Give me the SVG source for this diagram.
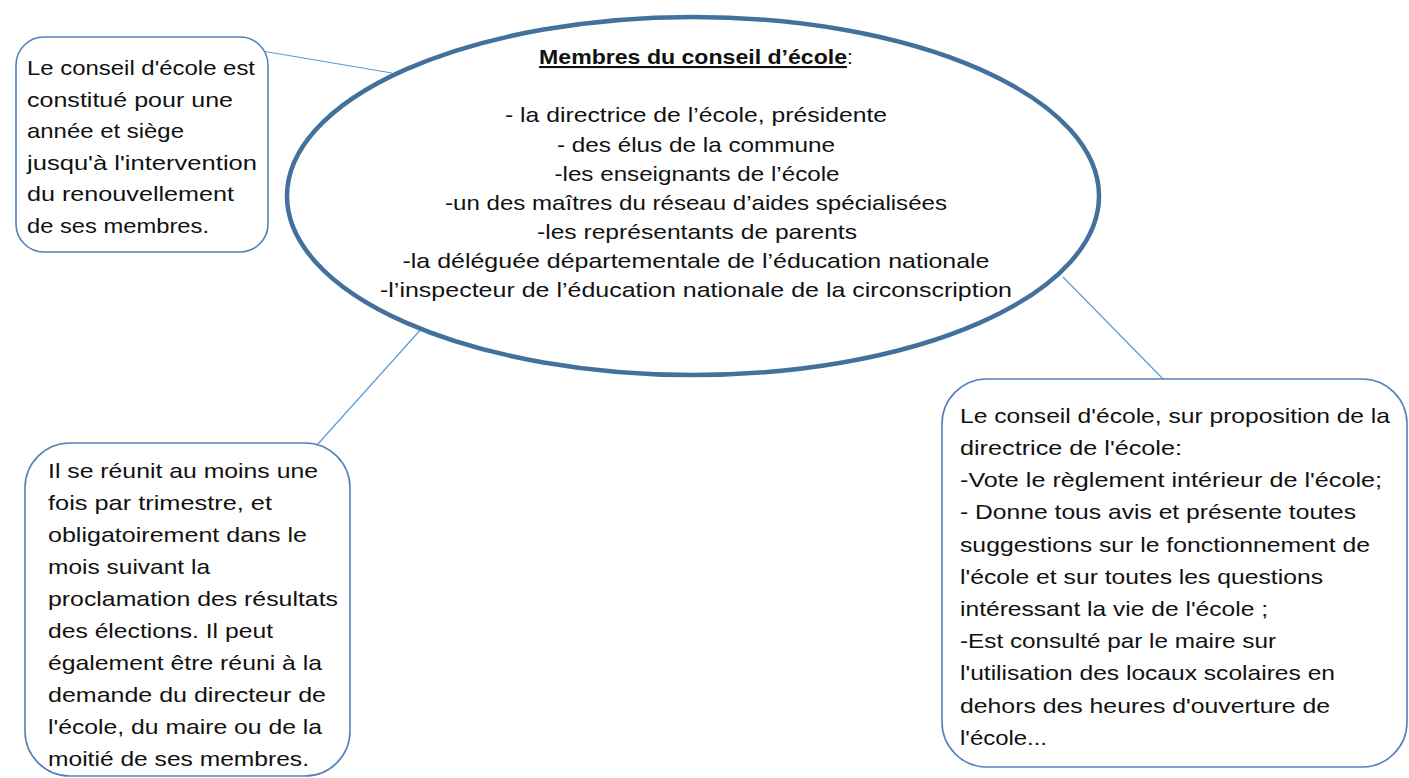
<svg xmlns="http://www.w3.org/2000/svg" width="1409" height="778" viewBox="0 0 1409 778">
<style>
.bg{fill:#ffffff}
.box{fill:#ffffff;stroke:#5482B8;stroke-width:1.6}
.ell{fill:#ffffff;stroke:#41719C;stroke-width:4.5}
.con{stroke:#5B9BD5;stroke-width:1.2;fill:none}
.t{font-family:"Liberation Sans",Arial,sans-serif;font-size:21px;fill:#111111}
.c{text-anchor:middle}
.title{font-weight:bold;text-decoration:underline}
</style>
<rect class="bg" x="0" y="0" width="1409" height="778"/>
<g id="connectors">
<line class="con" x1="262" y1="51" x2="392" y2="73"/>
<line class="con" x1="423" y1="327" x2="317" y2="445"/>
<line class="con" x1="1063" y1="277" x2="1165" y2="381"/>
</g>
<g id="node-center">
<ellipse class="ell" cx="693" cy="196" rx="406" ry="179"/>
<text class="t c" x="696" y="64"><tspan class="title" textLength="308" lengthAdjust="spacingAndGlyphs">Membres du conseil d’école</tspan>:</text>
<text class="t c" x="696" y="122" textLength="382" lengthAdjust="spacingAndGlyphs">- la directrice de l’école, présidente</text>
<text class="t c" x="696" y="152" textLength="278" lengthAdjust="spacingAndGlyphs">- des élus de la commune</text>
<text class="t c" x="697" y="181" textLength="285" lengthAdjust="spacingAndGlyphs">-les enseignants de l’école</text>
<text class="t c" x="696" y="210" textLength="502" lengthAdjust="spacingAndGlyphs">-un des maîtres du réseau d’aides spécialisées</text>
<text class="t c" x="697" y="239" textLength="320" lengthAdjust="spacingAndGlyphs">-les représentants de parents</text>
<text class="t c" x="696" y="268" textLength="587" lengthAdjust="spacingAndGlyphs">-la déléguée départementale de l’éducation nationale</text>
<text class="t c" x="696" y="297" textLength="632" lengthAdjust="spacingAndGlyphs">-l’inspecteur de l’éducation nationale de la circonscription</text>
</g>
<g id="node-topleft">
<rect class="box" x="16" y="37" width="252" height="215" rx="28" ry="28"/>
<text class="t" x="27" y="75" textLength="228" lengthAdjust="spacingAndGlyphs">Le conseil d'école est</text>
<text class="t" x="27" y="107" textLength="206" lengthAdjust="spacingAndGlyphs">constitué pour une</text>
<text class="t" x="27" y="138" textLength="157" lengthAdjust="spacingAndGlyphs">année et siège</text>
<text class="t" x="27" y="170" textLength="230" lengthAdjust="spacingAndGlyphs">jusqu'à l'intervention</text>
<text class="t" x="27" y="201" textLength="207" lengthAdjust="spacingAndGlyphs">du renouvellement</text>
<text class="t" x="27" y="233" textLength="182" lengthAdjust="spacingAndGlyphs">de ses membres.</text>
</g>
<g id="node-bottomleft">
<rect class="box" x="25" y="443" width="325" height="333" rx="45" ry="45"/>
<text class="t" x="48" y="478" textLength="270" lengthAdjust="spacingAndGlyphs">Il se réunit au moins une</text>
<text class="t" x="48" y="510" textLength="224" lengthAdjust="spacingAndGlyphs">fois par trimestre, et</text>
<text class="t" x="48" y="542" textLength="259" lengthAdjust="spacingAndGlyphs">obligatoirement dans le</text>
<text class="t" x="48" y="574" textLength="162" lengthAdjust="spacingAndGlyphs">mois suivant la</text>
<text class="t" x="48" y="606" textLength="290" lengthAdjust="spacingAndGlyphs">proclamation des résultats</text>
<text class="t" x="48" y="638" textLength="225" lengthAdjust="spacingAndGlyphs">des élections. Il peut</text>
<text class="t" x="48" y="670" textLength="274" lengthAdjust="spacingAndGlyphs">également être réuni à la</text>
<text class="t" x="48" y="702" textLength="278" lengthAdjust="spacingAndGlyphs">demande du directeur de</text>
<text class="t" x="48" y="734" textLength="274" lengthAdjust="spacingAndGlyphs">l'école, du maire ou de la</text>
<text class="t" x="48" y="766" textLength="261" lengthAdjust="spacingAndGlyphs">moitié de ses membres.</text>
</g>
<g id="node-right">
<rect class="box" x="942" y="379" width="465" height="388" rx="45" ry="45"/>
<text class="t" x="960" y="423" textLength="430" lengthAdjust="spacingAndGlyphs">Le conseil d'école, sur proposition de la</text>
<text class="t" x="960" y="455" textLength="222" lengthAdjust="spacingAndGlyphs">directrice de l'école:</text>
<text class="t" x="960" y="487" textLength="422" lengthAdjust="spacingAndGlyphs">-Vote le règlement intérieur de l'école;</text>
<text class="t" x="960" y="519" textLength="396" lengthAdjust="spacingAndGlyphs">- Donne tous avis et présente toutes</text>
<text class="t" x="960" y="552" textLength="410" lengthAdjust="spacingAndGlyphs">suggestions sur le fonctionnement de</text>
<text class="t" x="960" y="584" textLength="363" lengthAdjust="spacingAndGlyphs">l'école et sur toutes les questions</text>
<text class="t" x="960" y="616" textLength="308" lengthAdjust="spacingAndGlyphs">intéressant la vie de l'école ;</text>
<text class="t" x="960" y="648" textLength="316" lengthAdjust="spacingAndGlyphs">-Est consulté par le maire sur</text>
<text class="t" x="960" y="680" textLength="375" lengthAdjust="spacingAndGlyphs">l'utilisation des locaux scolaires en</text>
<text class="t" x="960" y="713" textLength="370" lengthAdjust="spacingAndGlyphs">dehors des heures d'ouverture de</text>
<text class="t" x="960" y="745" textLength="87" lengthAdjust="spacingAndGlyphs">l'école...</text>
</g>
</svg>
